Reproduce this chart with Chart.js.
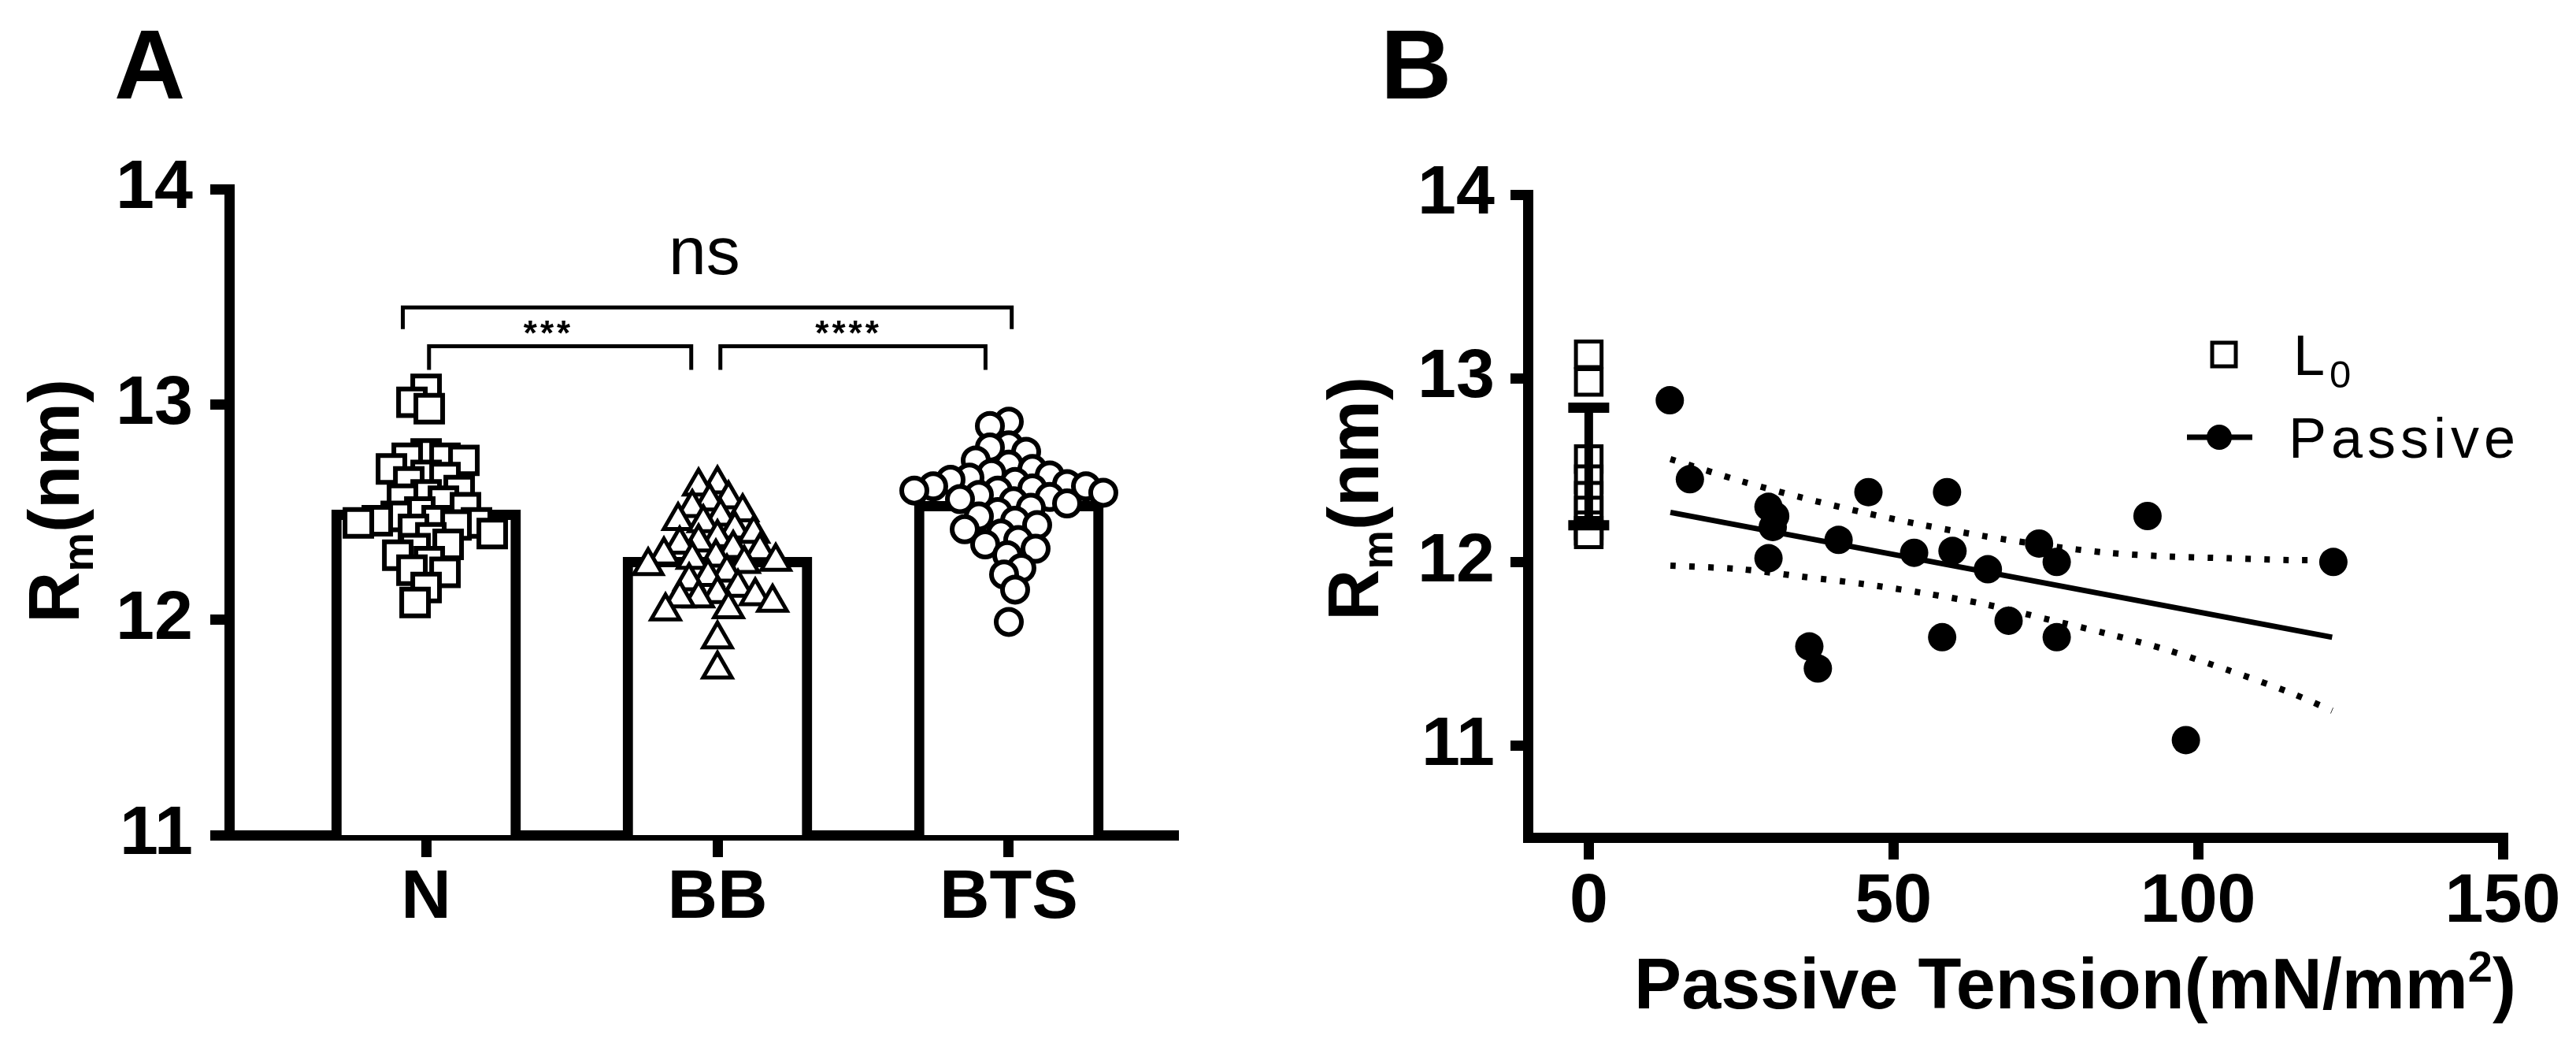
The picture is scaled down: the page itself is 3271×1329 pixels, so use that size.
<!DOCTYPE html>
<html>
<head>
<meta charset="utf-8">
<script src="https://cdn.jsdelivr.net/npm/chart.js@4.4.1/dist/chart.umd.min.js"></script>
<style>
  html, body { margin: 0; padding: 0; background: #fff; }
  #wrap { position: relative; width: 3271px; height: 1329px; overflow: hidden; }
  canvas { position: absolute; top: 0; }
  #chartA { left: 0; }
  #chartB { left: 1640px; }
</style>
</head>
<body>
<div id="wrap">
  <canvas id="chartA" width="1640" height="1329"></canvas>
  <canvas id="chartB" width="1631" height="1329"></canvas>
</div>
<script>
// ---- panel A data ----
const categories = ['N', 'BB', 'BTS'];
const barMeans = [12.51, 12.29, 12.55];
const nValues = [13.07, 13.01, 12.98, 12.77, 12.75, 12.75, 12.74, 12.70, 12.67, 12.66, 12.64, 12.60,
  12.58, 12.56, 12.55, 12.52, 12.50, 12.48, 12.46, 12.46, 12.45, 12.45, 12.44, 12.42, 12.40, 12.38,
  12.35, 12.33, 12.30, 12.27, 12.23, 12.22, 12.15, 12.08];
const bbValues = [12.63, 12.62, 12.56, 12.55, 12.52, 12.50, 12.48, 12.46, 12.45, 12.42, 12.40, 12.38,
  12.36, 12.35, 12.33, 12.32, 12.30, 12.29, 12.28, 12.27, 12.26, 12.25, 12.22, 12.20, 12.18, 12.15,
  12.12, 12.11, 12.10, 12.10, 12.08, 12.05, 12.04, 11.91, 11.77];
const btsValues = [12.92, 12.90, 12.81, 12.80, 12.78, 12.74, 12.72, 12.70, 12.68, 12.67, 12.66, 12.65,
  12.64, 12.63, 12.62, 12.62, 12.61, 12.60, 12.60, 12.59, 12.58, 12.57, 12.56, 12.55, 12.54, 12.52,
  12.50, 12.48, 12.46, 12.44, 12.42, 12.40, 12.37, 12.35, 12.33, 12.30, 12.24, 12.21, 12.14, 11.99];
const yTicksA = [11, 12, 13, 14];

// ---- panel B data ----
const l0Values = [13.13, 12.98, 12.56, 12.45, 12.36, 12.28, 12.20, 12.17, 12.15];
const l0Mean = 12.52;
const l0Sd = 0.32;
const passiveX = [13.3, 16.6, 29.5, 30.6, 30.2, 29.5, 36.2, 37.6, 41.0, 45.9, 53.4, 58.8, 59.7, 58.0,
  65.5, 68.9, 73.9, 76.8, 76.8, 91.7, 98.0, 122.2];
const passiveY = [12.88, 12.45, 12.30, 12.25, 12.19, 12.02, 11.54, 11.42, 12.12, 12.38, 12.05, 12.38,
  12.06, 11.59, 11.96, 11.68, 12.10, 12.00, 11.59, 12.25, 11.03, 12.00];
const fitX = [13.4, 122];
const fitY = [12.27, 11.59];
const bandX = [13.4, 25, 35, 45, 55, 65, 75, 85, 95, 105, 115, 122];
const bandUpper = [12.56, 12.44, 12.35, 12.27, 12.20, 12.14, 12.09, 12.05, 12.03, 12.02, 12.01, 12.01];
const bandLower = [11.98, 11.96, 11.92, 11.88, 11.83, 11.77, 11.69, 11.61, 11.52, 11.41, 11.29, 11.19];
const xTicksB = [0, 50, 100, 150];
const yTicksB = [11, 12, 13, 14];

const FONT = '"Liberation Sans", Arial, sans-serif';
Chart.defaults.font.family = FONT;
Chart.defaults.color = '#000';
Chart.defaults.animation = false;

// simple beeswarm so the column scatter spreads like the original
function swarm(vals, center) {
  const D = 23, PX = 370, PY = 273;
  const idx = vals.map((v, i) => i).sort((a, b) => vals[b] - vals[a]);
  const placed = [];
  const xs = [];
  idx.forEach((i, n) => {
    const py = vals[i] * PY;
    let off = 0;
    for (let k = 0; k < 400; k++) {
      const cand = (k === 0 ? 0 : (k % 2 ? 1 : -1) * Math.ceil(k / 2) * 2) * (n % 2 ? -1 : 1);
      if (placed.every(p => (p.x - cand) ** 2 + (p.y - py) ** 2 >= D * D)) { off = cand; break; }
    }
    placed.push({ x: off, y: py });
    xs[i] = center + off / PX;
  });
  return vals.map((v, i) => ({ x: xs[i], y: v }));
}

function richText(ctx, parts, x, y, size, weight, rot, align) {
  ctx.save();
  ctx.translate(x, y);
  ctx.rotate(rot || 0);
  ctx.fillStyle = '#000';
  ctx.textBaseline = 'alphabetic';
  ctx.textAlign = 'left';
  const fontOf = p => weight + ' ' + Math.round(size * (p.s || 1)) + 'px ' + FONT;
  let total = 0;
  parts.forEach(p => { ctx.font = fontOf(p); total += ctx.measureText(p.t).width; });
  let cx = align === 'left' ? 0 : -total / 2;
  parts.forEach(p => {
    ctx.font = fontOf(p);
    ctx.fillText(p.t, cx, (p.dy || 0) * size);
    cx += ctx.measureText(p.t).width;
  });
  ctx.restore();
}

const axisStyle = (tl) => ({
  offset: false,
  grid: { offset: false, drawOnChartArea: false, drawTicks: true, tickLength: tl, lineWidth: 13, color: '#000' },
  border: { display: true, width: 13, color: '#000' }
});

// ---- panel A ----
const bracketPlugin = {
  id: 'brackets',
  afterDatasetsDraw(chart) {
    const { ctx, scales: { x, y } } = chart;
    ctx.save();
    ctx.strokeStyle = '#000';
    ctx.lineWidth = 5;
    const br = (x1, x2, yv, yEnd) => {
      ctx.beginPath();
      ctx.moveTo(x.getPixelForValue(x1), y.getPixelForValue(yEnd));
      ctx.lineTo(x.getPixelForValue(x1), y.getPixelForValue(yv));
      ctx.lineTo(x.getPixelForValue(x2), y.getPixelForValue(yv));
      ctx.lineTo(x.getPixelForValue(x2), y.getPixelForValue(yEnd));
      ctx.stroke();
    };
    br(0.92, 3.01, 13.45, 13.35);
    br(1.01, 1.91, 13.27, 13.16);
    br(2.01, 2.92, 13.27, 13.16);
    ctx.fillStyle = '#000';
    ctx.textAlign = 'center';
    ctx.textBaseline = 'alphabetic';
    ctx.font = '86px ' + FONT;
    ctx.fillText('ns', x.getPixelForValue(1.955), y.getPixelForValue(13.45) - 42);
    ctx.font = 'bold 44px ' + FONT;
    ctx.letterSpacing = '4px';
    ctx.fillText('***', x.getPixelForValue(1.42), y.getPixelForValue(13.27) - 2);
    ctx.fillText('****', x.getPixelForValue(2.45), y.getPixelForValue(13.27) - 2);
    ctx.restore();
  },
  afterDraw(chart) {
    const ctx = chart.ctx;
    richText(ctx, [{ t: 'A' }], 145, 125, 125, 'bold', 0, 'left');
    richText(ctx, [{ t: 'R' }, { t: 'm', s: 0.62, dy: 0.2 }, { t: '(nm)' }], 100, 636, 90, 'bold', -Math.PI / 2);
  }
};

new Chart(document.getElementById('chartA'), {
  type: 'bar',
  data: {
    datasets: [
      {
        type: 'scatter', data: swarm(nValues, 1), pointStyle: 'rect', pointRadius: 24,
        borderColor: '#000', backgroundColor: '#fff', borderWidth: 6, order: 1
      },
      {
        type: 'scatter', data: swarm(bbValues, 2), pointStyle: 'triangle', pointRadius: 21,
        borderColor: '#000', backgroundColor: '#fff', borderWidth: 5, order: 1
      },
      {
        type: 'scatter', data: swarm(btsValues, 3), pointStyle: 'circle', pointRadius: 16,
        borderColor: '#000', backgroundColor: '#fff', borderWidth: 6, order: 1
      },
      {
        type: 'bar', data: barMeans.map((m, i) => ({ x: i + 1, y: m })),
        backgroundColor: '#fff', borderColor: '#000', borderWidth: 13, barThickness: 240, order: 3
      }
    ]
  },
  options: {
    responsive: false,
    devicePixelRatio: 1,
    layout: { padding: { left: 0, top: 240, right: 150, bottom: 0 } },
    plugins: { legend: { display: false }, tooltip: { enabled: false } },
    scales: {
      x: {
        type: 'linear', min: 0.324, max: 3.565,
        ...axisStyle(28),
        afterBuildTicks: s => { s.ticks = categories.map((c, i) => ({ value: i + 1 })); },
        afterFit: s => { s.height = 269; },
        ticks: {
          padding: 0, maxRotation: 0, font: { size: 88, weight: 'bold' },
          callback: v => categories[v - 1]
        }
      },
      y: {
        min: 11, max: 14,
        ...axisStyle(24),
        afterBuildTicks: s => { s.ticks = yTicksA.map(v => ({ value: v })); },
        afterFit: s => { s.width = 291; },
        ticks: { padding: 22, font: { size: 88, weight: 'bold' } }
      }
    }
  },
  plugins: [bracketPlugin]
});

// ---- panel B ----
const panelBPlugin = {
  id: 'panelB',
  afterDatasetsDraw(chart) {
    const { ctx, scales: { x, y } } = chart;
    const px = x.getPixelForValue(0);
    const top = y.getPixelForValue(l0Mean + l0Sd);
    const bot = y.getPixelForValue(l0Mean - l0Sd);
    ctx.save();
    ctx.strokeStyle = '#000';
    ctx.lineWidth = 11;
    ctx.beginPath();
    ctx.moveTo(px, top); ctx.lineTo(px, bot);
    ctx.stroke();
    ctx.lineWidth = 13;
    ctx.beginPath();
    ctx.moveTo(px - 26, top); ctx.lineTo(px + 26, top);
    ctx.moveTo(px - 26, bot); ctx.lineTo(px + 26, bot);
    ctx.stroke();
    ctx.restore();
  },
  afterDraw(chart) {
    const ctx = chart.ctx;
    richText(ctx, [{ t: 'B' }], 113, 125, 125, 'bold', 0, 'left');
    richText(ctx, [{ t: 'R' }, { t: 'm', s: 0.62, dy: 0.2 }, { t: '(nm)' }], 110, 633, 90, 'bold', -Math.PI / 2);
    richText(ctx, [{ t: 'Passive Tension(mN/mm' }, { t: '2', s: 0.62, dy: -0.38 }, { t: ')' }], 995, 1280, 90, 'bold');
    // legend
    ctx.save();
    ctx.strokeStyle = '#000';
    ctx.fillStyle = '#fff';
    ctx.lineWidth = 5;
    ctx.fillRect(1169, 435, 30, 30);
    ctx.strokeRect(1169, 435, 30, 30);
    ctx.lineWidth = 7;
    ctx.beginPath();
    ctx.moveTo(1137, 555); ctx.lineTo(1220, 555);
    ctx.stroke();
    ctx.fillStyle = '#000';
    ctx.beginPath();
    ctx.arc(1178, 555, 16, 0, Math.PI * 2);
    ctx.fill();
    ctx.letterSpacing = '6px';
    richText(ctx, [{ t: 'L' }, { t: '0', s: 0.68, dy: 0.22 }], 1272, 476, 72, 'normal', 0, 'left');
    richText(ctx, [{ t: 'Passive' }], 1266, 581, 72, 'normal', 0, 'left');
    ctx.restore();
  }
};

new Chart(document.getElementById('chartB'), {
  type: 'scatter',
  data: {
    datasets: [
      {
        type: 'scatter', data: passiveX.map((v, i) => ({ x: v, y: passiveY[i] })),
        pointStyle: 'circle', pointRadius: 18, backgroundColor: '#000', borderColor: '#000', borderWidth: 0, order: 1
      },
      {
        type: 'scatter', data: l0Values.map(v => ({ x: 0, y: v })),
        pointStyle: 'rect', pointRadius: 23, backgroundColor: '#fff', borderColor: '#000', borderWidth: 5, order: 2
      },
      {
        type: 'line', data: fitX.map((v, i) => ({ x: v, y: fitY[i] })),
        borderColor: '#000', borderWidth: 7, pointRadius: 0, order: 3
      },
      {
        type: 'line', data: bandX.map((v, i) => ({ x: v, y: bandUpper[i] })),
        borderColor: '#000', borderWidth: 8, borderDash: [7, 17], pointRadius: 0, tension: 0.3, order: 3
      },
      {
        type: 'line', data: bandX.map((v, i) => ({ x: v, y: bandLower[i] })),
        borderColor: '#000', borderWidth: 8, borderDash: [7, 17], pointRadius: 0, tension: 0.3, order: 3
      }
    ]
  },
  options: {
    responsive: false,
    devicePixelRatio: 1,
    layout: { padding: { left: 0, top: 247, right: 93, bottom: 0 } },
    plugins: { legend: { display: false }, tooltip: { enabled: false } },
    scales: {
      x: {
        type: 'linear', min: -10, max: 150,
        ...axisStyle(28),
        afterBuildTicks: s => { s.ticks = xTicksB.map(v => ({ value: v })); },
        afterFit: s => { s.height = 266; },
        ticks: { padding: 2, maxRotation: 0, font: { size: 88, weight: 'bold' } }
      },
      y: {
        min: 10.5, max: 14,
        ...axisStyle(22),
        afterBuildTicks: s => { s.ticks = yTicksB.map(v => ({ value: v })); },
        afterFit: s => { s.width = 300; },
        ticks: { padding: 20, font: { size: 88, weight: 'bold' } }
      }
    }
  },
  plugins: [panelBPlugin]
});
</script>
</body>
</html>
